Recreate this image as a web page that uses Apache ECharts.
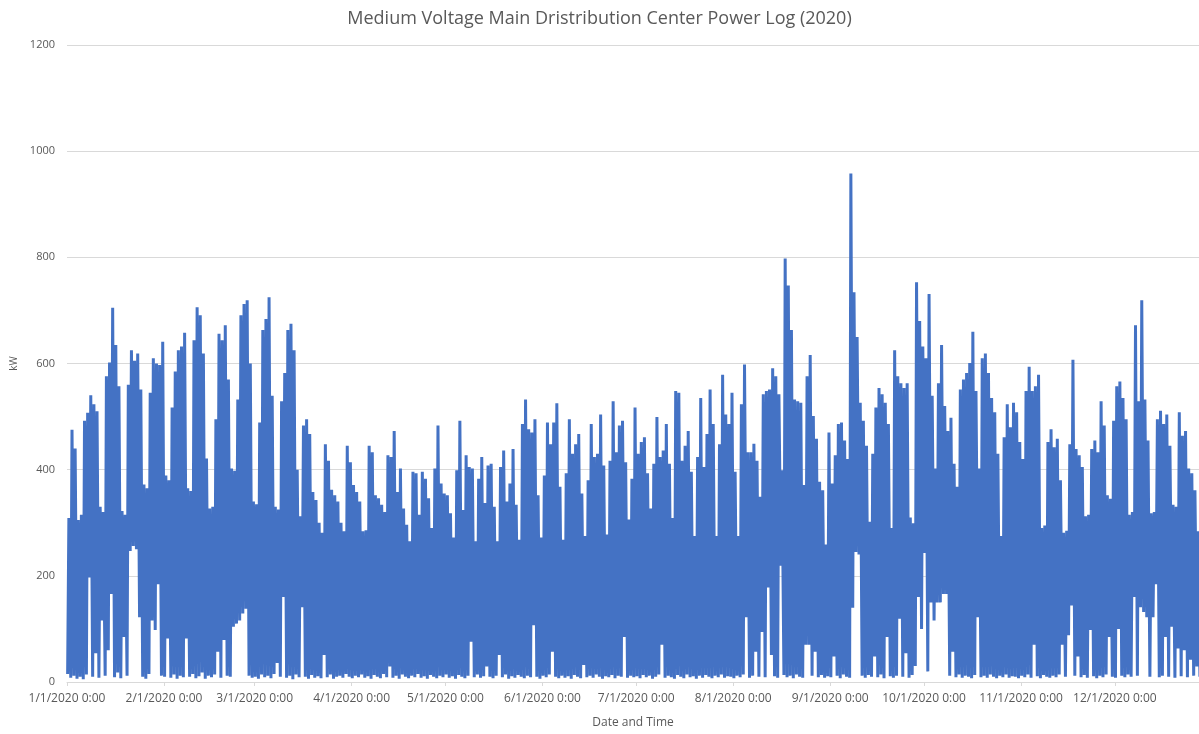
<!DOCTYPE html>
<html>
<head>
<meta charset="utf-8">
<script src="https://cdn.jsdelivr.net/npm/echarts@6/dist/echarts.min.js"></script>
<style>
html,body{margin:0;padding:0;background:#fff;}
#chart{width:1199px;height:734px;}
</style>
</head>
<body>
<div id="chart"></div>
<script>
// Day index 0 = 1/1/2020. Daily peak kW, by month
const peakJan = [309,475,440,305,315,492,507,540,523,510,330,320,576,602,705,635,557,322,315,560,625,605,619,551,372,365,545,610,600,597,641];
const peakFeb = [389,380,517,585,625,632,658,365,360,644,706,691,619,421,327,330,495,656,644,672,570,402,398,532,691,712,719,600,340];
const peakMar = [335,489,663,684,725,539,330,325,529,582,663,675,625,400,312,483,495,467,358,343,300,281,448,417,362,352,340,300,284,445,414];
const peakApr = [371,358,340,284,286,445,433,352,346,334,320,427,424,473,358,402,327,296,265,396,393,315,396,383,346,290,402,483,374,355];
const peakMay = [352,318,272,399,492,324,427,405,402,265,383,424,337,408,411,330,265,405,436,340,374,439,334,268,486,532,476,470,495,352,272];
const peakJun = [389,489,448,489,525,368,268,393,495,430,448,467,355,275,380,486,424,430,504,408,278,417,529,433,483,492,414,306,383,517];
const peakJul = [430,452,461,393,327,411,499,424,436,486,411,309,548,545,417,445,473,396,275,424,535,405,467,551,486,275,448,579,504,486,545];
const peakAug = [396,275,523,598,433,433,449,417,349,542,548,551,591,576,542,399,798,747,663,532,529,526,371,576,616,501,458,377,361,259,470];
const peakSep = [374,427,486,489,455,420,958,734,650,526,492,445,302,430,517,554,542,526,486,290,625,576,563,554,563,310,299,753,680,632];
const peakOct = [610,731,539,402,563,635,520,473,498,411,368,551,570,582,601,660,548,402,610,619,582,535,508,430,275,461,523,480,526,508,452];
const peakNov = [420,548,594,548,557,579,290,295,452,476,442,458,380,281,285,448,607,439,427,405,312,315,439,455,433,529,483,352,345,492];
const peakDec = [557,566,535,495,315,320,672,529,719,532,455,318,320,495,511,486,504,445,334,330,508,464,473,402,393,361,284,445];

// Daily minimum kW, by month
const minJan = [15,8,12,6,10,5,14,197,10,54,8,116,12,60,166,9,18,7,85,12,247,256,250,122,10,6,15,116,98,184,12];
const minFeb = [10,82,8,14,6,12,9,82,10,15,7,11,18,6,12,9,14,57,8,79,12,10,104,110,116,129,138,12,8];
const minMar = [10,6,14,9,12,7,15,36,10,160,8,12,5,14,9,141,10,6,13,8,11,7,51,9,14,6,10,12,8,15,10];
const minApr = [7,12,9,14,8,11,6,13,10,7,15,9,29,8,12,6,14,10,7,12,9,15,8,11,6,13,10,7,12,9];
const minMay = [14,8,11,6,13,10,7,12,76,9,14,8,11,29,10,7,12,51,9,14,6,11,8,13,10,7,12,9,107,10,6];
const minJun = [12,9,14,57,10,7,12,8,11,6,13,10,7,32,9,12,8,14,10,6,11,9,13,7,12,10,85,8,12,9];
const minJul = [11,7,13,9,12,6,10,14,70,8,12,9,6,13,10,7,14,9,11,6,12,8,13,10,7,12,9,14,8,11,10];
const minAug = [7,12,9,14,122,8,12,57,10,94,9,178,51,11,8,219,13,9,12,7,14,10,8,70,70,12,57,9,13,8,11];
const minSep = [9,48,12,7,14,10,8,140,245,240,12,8,13,10,48,9,14,7,85,11,8,12,119,10,54,8,13,30,160,100];
const minOct = [243,20,150,116,150,150,166,166,12,57,9,14,8,12,10,7,13,122,9,12,8,14,10,7,12,9,14,8,11,10,7];
const minNov = [12,9,14,8,70,11,7,13,10,8,12,9,14,70,10,88,144,12,48,9,13,8,98,11,7,12,9,14,85,10];
const minDec = [8,100,12,9,14,10,160,12,141,132,122,10,122,184,9,12,85,10,104,8,63,11,60,9,42,12,29,10];

// X-axis tick labels at month starts (day index)
const tickDays = [0,31,60,91,121,152,182,213,244,274,305,335];
const tickLabels = ['1/1/2020 0:00','2/1/2020 0:00','3/1/2020 0:00','4/1/2020 0:00','5/1/2020 0:00','6/1/2020 0:00','7/1/2020 0:00','8/1/2020 0:00','9/1/2020 0:00','10/1/2020 0:00','11/1/2020 0:00','12/1/2020 0:00'];

const peaks = [].concat(peakJan,peakFeb,peakMar,peakApr,peakMay,peakJun,peakJul,peakAug,peakSep,peakOct,peakNov,peakDec);
const mins = [].concat(minJan,minFeb,minMar,minApr,minMay,minJun,minJul,minAug,minSep,minOct,minNov,minDec);

const data = [];
for (let i = 0; i < peaks.length; i++) {
  data.push([i + 0.2, mins[i]]);
  data.push([i + 0.6, peaks[i]]);
}

const FONT = 'Open Sans';
const chart = echarts.init(document.getElementById('chart'), null, {renderer: 'canvas'});
chart.setOption({
  animation: false,
  backgroundColor: '#ffffff',
  title: {
    text: 'Medium Voltage Main Dristribution Center Power Log (2020)',
    left: 'center',
    top: 5,
    textStyle: {fontFamily: FONT, fontSize: 18, fontWeight: 'normal', color: '#595959'}
  },
  grid: {left: 67, right: 0, top: 45, bottom: 45, containLabel: false},
  xAxis: {
    type: 'value',
    min: 0,
    max: 361.9,
    name: 'Date and Time',
    nameLocation: 'middle',
    nameGap: 35,
    nameTextStyle: {fontFamily: FONT, fontSize: 12, color: '#595959'},
    axisLine: {show: true, lineStyle: {color: '#d9d9d9', width: 1}},
    axisTick: {show: true, customValues: tickDays, length: 4, lineStyle: {color: '#d9d9d9'}},
    axisLabel: {
      customValues: tickDays,
      margin: 11,
      fontFamily: FONT, fontSize: 12, color: '#595959',
      formatter: function (v) {
        const idx = tickDays.indexOf(Math.round(v));
        return idx >= 0 ? tickLabels[idx] : '';
      }
    },
    splitLine: {show: false}
  },
  yAxis: {
    type: 'value',
    min: 0,
    max: 1200,
    interval: 200,
    name: 'kW',
    nameLocation: 'middle',
    nameGap: 46,
    nameRotate: 90,
    nameTextStyle: {fontFamily: FONT, fontSize: 10, color: '#595959'},
    axisLine: {show: false},
    axisTick: {show: false},
    axisLabel: {
      margin: 12, fontFamily: FONT, fontSize: 11, color: '#595959',
      formatter: function (v) { return String(v); }
    },
    splitLine: {lineStyle: {color: '#d9d9d9', width: 1}}
  },
  series: [{
    type: 'line',
    data: data,
    showSymbol: false,
    symbol: 'none',
    sampling: 'none',
    clip: true,
    lineStyle: {color: '#4472C4', width: 3, join: 'bevel'},
    itemStyle: {color: '#4472C4'}
  }]
});
</script>
</body>
</html>
